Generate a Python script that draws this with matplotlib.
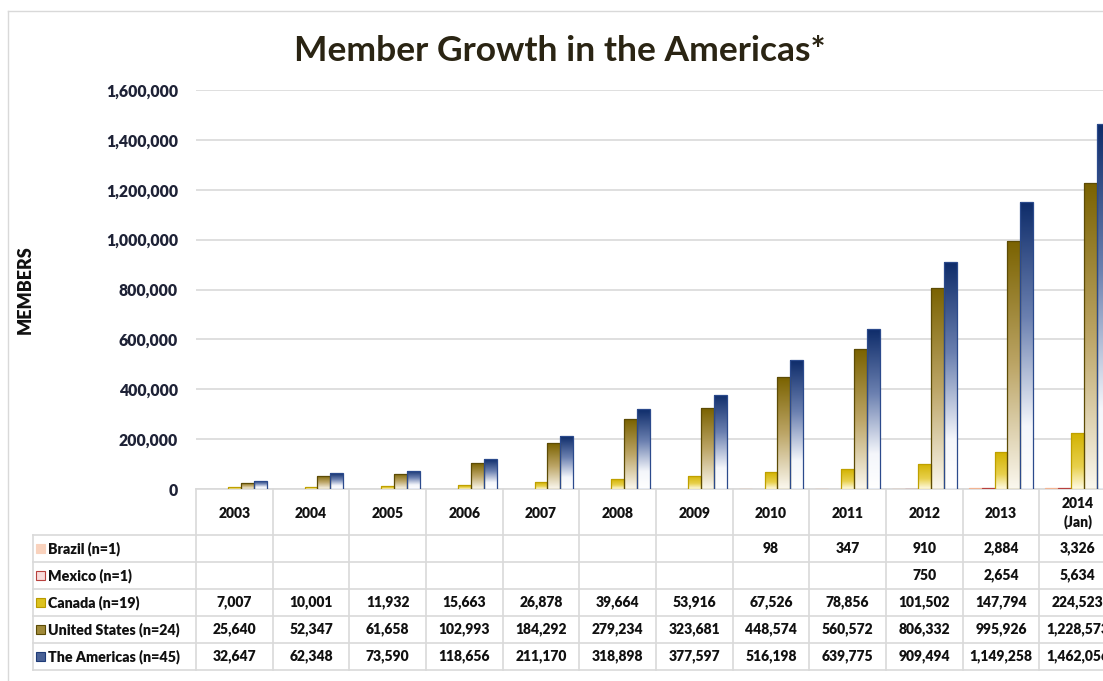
import numpy as np
import matplotlib.pyplot as plt
from matplotlib.colors import LinearSegmentedColormap
from matplotlib.patches import Rectangle
from matplotlib.ticker import FuncFormatter

plt.rcParams['font.family'] = ['Lato', 'DejaVu Sans']

years = ["2003", "2004", "2005", "2006", "2007", "2008", "2009",
         "2010", "2011", "2012", "2013", "2014\n(Jan)"]
brazil = [None, None, None, None, None, None, None, 98, 347, 910, 2884, 3326]
mexico = [None, None, None, None, None, None, None, None, None, 750, 2654, 5634]
canada = [7007, 10001, 11932, 15663, 26878, 39664, 53916, 67526, 78856,
          101502, 147794, 224523]
united_states = [25640, 52347, 61658, 102993, 184292, 279234, 323681, 448574,
                 560572, 806332, 995926, 1228573]
americas = [32647, 62348, 73590, 118656, 211170, 318898, 377597, 516198,
            639775, 909494, 1149258, 1462056]
series_names = ["Brazil (n=1)", "Mexico (n=1)", "Canada (n=19)",
                "United States (n=24)", "The Americas (n=45)"]

W, H = 1103, 681
AX_L, AX_R, AX_T, AX_B = 196, 1116, 90, 489

# bottom -> top gradient stops, outline colour, legend key colours
styles = [
    ([(0, '#FDEBDF'), (1, '#F6C3A6')], '#F2B392', ('#F9D2BD', '#F9D2BD')),
    ([(0, '#FBE3E2'), (1, '#D98C8A')], '#B8403D', ('#F8DCDB', '#B8403D')),
    ([(0, '#FFFBE6'), (0.4, '#E8D04C'), (1, '#D2B200')], '#BFA000', ('#DCC21E', '#B89A00')),
    ([(0, '#FBF8EF'), (0.5, '#BCA566'), (1, '#7A6200')], '#5C4B05', ('#A08A3A', '#5C4B05')),
    ([(0, '#FFFFFF'), (0.22, '#F4F6FB'), (0.6, '#6B80B0'), (1, '#0E2C6A')], '#2B4A8C', ('#4A6296', '#1F3C78')),
]
all_series = [brazil, mexico, canada, united_states, americas]

WT = 'heavy'
fig = plt.figure(figsize=(W / 100, H / 100), dpi=100)
fig.patch.set_facecolor('white')

ax = fig.add_axes([AX_L / W, 1 - AX_B / H, (AX_R - AX_L) / W, (AX_B - AX_T) / H])
ax.set_facecolor('none')

n = len(years)
bw = 0.168
grad = np.linspace(0, 1, 256).reshape(-1, 1)
for s, (vals, (stops, edge, _)) in enumerate(zip(all_series, styles)):
    cmap = LinearSegmentedColormap.from_list(f"s{s}", stops)
    xs = [i + (s - 2) * bw for i in range(n) if vals[i] is not None]
    hs = [v for v in vals if v is not None]
    bars = ax.bar(xs, hs, width=bw, facecolor='none', edgecolor=edge,
                  linewidth=0.9, zorder=3)
    for rect, h in zip(bars, hs):
        x0 = rect.get_x()
        im = ax.imshow(grad, cmap=cmap, extent=[x0, x0 + bw, 0, h], origin='lower',
                       aspect='auto', interpolation='bilinear', zorder=2)
        im.set_clip_path(rect)

ax.set_xlim(-0.5, n - 0.5)
ax.set_ylim(0, 1600000)
ax.set_yticks(np.arange(0, 1600001, 200000))
ax.yaxis.set_major_formatter(FuncFormatter(lambda v, p: f"{int(v):,}"))
ax.tick_params(axis='y', length=0, pad=13, labelsize=11.3, labelcolor='#1E2236')
for lbl in ax.get_yticklabels():
    lbl.set_fontweight(WT)
ax.set_xticks([])
ax.grid(axis='y', color='#D9D9D9', linewidth=1.2, zorder=0)
ax.set_axisbelow(True)
for sp in ax.spines.values():
    sp.set_visible(False)

# overlay in pixel coordinates for frame, title and data table
ov = fig.add_axes([0, 0, 1, 1], zorder=-1)
ov.set_xlim(0, W)
ov.set_ylim(H, 0)
ov.axis('off')

ov.plot([8, 8], [11, H], color='#D9D9D9', lw=1)
ov.plot([8, W], [11, 11], color='#D9D9D9', lw=1)

ov.text(560, 51, "Member Growth in the Americas*", ha='center', va='center',
        fontsize=25.5, fontweight='bold', color='#2A2413')
ov.text(25, 290, "MEMBERS", rotation=90, ha='center', va='center',
        fontsize=13, fontweight=WT, color='#111111')

cat_w = (AX_R - AX_L) / n
col_x = [AX_L + i * cat_w for i in range(n + 1)]
hdr_top, hdr_bot = 489, 535
row_h = 27
row_y = [hdr_bot + r * row_h for r in range(len(series_names) + 1)]
line_c = '#D9D9D9'

ov.plot([AX_L, AX_R], [hdr_top, hdr_top], color=line_c, lw=1.2)
for y in row_y:
    ov.plot([33, AX_R], [y, y], color=line_c, lw=1.2)
ov.plot([33, 33], [row_y[0], row_y[-1]], color=line_c, lw=1.2)
for x in col_x:
    ov.plot([x, x], [hdr_top, row_y[-1]], color=line_c, lw=1.2)

for i, yr in enumerate(years):
    ov.text(col_x[i] + cat_w / 2, (hdr_top + hdr_bot) / 2 + 1, yr, ha='center',
            va='center', fontsize=10, fontweight=WT, color='#111111',
            linespacing=1.35)

for r, (name, vals, (_, _, (kf, ke))) in enumerate(zip(series_names, all_series, styles)):
    yc = row_y[r] + row_h / 2
    ov.add_patch(Rectangle((36, yc - 4.5), 9, 9, facecolor=kf, edgecolor=ke, lw=0.8))
    ov.text(48, yc, name, ha='left', va='center', fontsize=10.3,
            fontweight=WT, color='#111111')
    for i, v in enumerate(vals):
        if v is None:
            continue
        ov.text(col_x[i] + cat_w / 2, yc, f"{v:,}", ha='center', va='center',
                fontsize=10, fontweight=WT, color='#111111')

fig.savefig("out.png", dpi=100)
